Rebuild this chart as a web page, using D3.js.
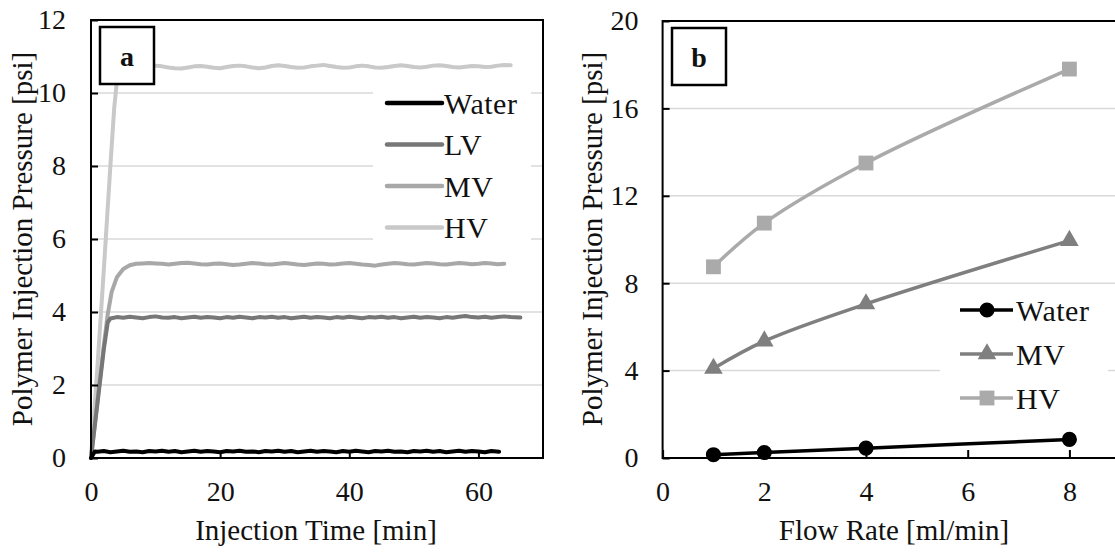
<!DOCTYPE html>
<html><head><meta charset="utf-8">
<script src="https://cdn.jsdelivr.net/npm/d3@7/dist/d3.min.js"></script>
<style>body{margin:0;background:#fff;}</style></head>
<body><svg id="c" width="1115" height="552" font-family="Liberation Serif"></svg>
<script>
// ---------- Panel a data: [time min, pressure psi] ----------
const waterA = [[0,0],[0.6,0.18],[1,0.17],[2,0.19],[3,0.16],[4,0.18],[5,0.2],[6,0.17],[7,0.18],[8,0.16],[9,0.19],[10,0.18],[11,0.2],[12,0.17],[13,0.19],[14,0.16],[15,0.18],[16,0.2],[17,0.17],[18,0.19],[19,0.18],[20,0.16],[21,0.19],[22,0.18],[23,0.2],[24,0.17],[25,0.18],[26,0.16],[27,0.19],[28,0.18],[29,0.2],[30,0.17],[31,0.19],[32,0.16],[33,0.18],[34,0.2],[35,0.17],[36,0.19],[37,0.18],[38,0.16],[39,0.19],[40,0.17],[41,0.2],[42,0.18],[43,0.16],[44,0.19],[45,0.18],[46,0.2],[47,0.17],[48,0.18],[49,0.16],[50,0.19],[51,0.18],[52,0.2],[53,0.17],[54,0.19],[55,0.16],[56,0.18],[57,0.2],[58,0.17],[59,0.19],[60,0.18],[61,0.16],[62,0.19],[63.2,0.17]];
const lvA = [[0,0],[1,1.5],[2,3.0],[2.6,3.72],[3,3.82],[4,3.86],[5,3.84],[6,3.87],[7,3.85],[8,3.83],[9,3.86],[10,3.88],[11,3.85],[12,3.84],[13,3.86],[14,3.83],[15,3.85],[16,3.87],[17,3.84],[18,3.86],[19,3.85],[20,3.83],[21,3.86],[22,3.84],[23,3.87],[24,3.85],[25,3.83],[26,3.86],[27,3.85],[28,3.87],[29,3.84],[30,3.86],[31,3.83],[32,3.85],[33,3.87],[34,3.84],[35,3.86],[36,3.85],[37,3.83],[38,3.86],[39,3.84],[40,3.87],[41,3.85],[42,3.83],[43,3.86],[44,3.85],[45,3.87],[46,3.84],[47,3.86],[48,3.83],[49,3.85],[50,3.87],[51,3.84],[52,3.86],[53,3.85],[54,3.83],[55,3.86],[56,3.84],[57,3.87],[58,3.89],[59,3.86],[60,3.85],[61,3.87],[62,3.84],[63,3.86],[64,3.88],[65,3.86],[66.5,3.85]];
const mvA = [[0,0],[1,1.55],[2,3.1],[2.6,3.95],[3.2,4.55],[4,4.95],[5,5.18],[6,5.28],[7,5.32],[8,5.33],[9,5.34],[10,5.33],[11,5.32],[12,5.30],[13,5.32],[14,5.34],[15,5.35],[16,5.33],[17,5.31],[18,5.30],[19,5.32],[20,5.33],[21,5.31],[22,5.29],[23,5.30],[24,5.32],[25,5.34],[26,5.33],[27,5.31],[28,5.30],[29,5.32],[30,5.34],[31,5.32],[32,5.30],[33,5.29],[34,5.31],[35,5.33],[36,5.32],[37,5.30],[38,5.31],[39,5.33],[40,5.34],[41,5.32],[42,5.30],[43,5.29],[44,5.27],[45,5.30],[46,5.32],[47,5.34],[48,5.33],[49,5.31],[50,5.30],[51,5.32],[52,5.34],[53,5.33],[54,5.31],[55,5.30],[56,5.32],[57,5.34],[58,5.33],[59,5.31],[60,5.32],[61,5.34],[62,5.33],[63,5.31],[64,5.32]];
const hvA = [[0,0],[1,2.5],[2,5.2],[3,8.0],[3.6,9.6],[4,10.3],[4.6,10.62],[5.5,10.72],[6,10.74],[7,10.72],[8,10.70],[9,10.73],[10,10.75],[11,10.73],[12,10.70],[13,10.68],[14,10.67],[15,10.70],[16,10.73],[17,10.74],[18,10.72],[19,10.69],[20,10.68],[21,10.71],[22,10.74],[23,10.75],[24,10.73],[25,10.70],[26,10.68],[27,10.70],[28,10.74],[29,10.76],[30,10.74],[31,10.71],[32,10.69],[33,10.70],[34,10.73],[35,10.75],[36,10.77],[37,10.74],[38,10.71],[39,10.69],[40,10.70],[41,10.73],[42,10.75],[43,10.73],[44,10.70],[45,10.69],[46,10.71],[47,10.74],[48,10.76],[49,10.74],[50,10.71],[51,10.70],[52,10.72],[53,10.75],[54,10.76],[55,10.74],[56,10.71],[57,10.70],[58,10.72],[59,10.74],[60,10.73],[61,10.71],[62,10.72],[63,10.75],[64,10.77],[65,10.76]];
const seriesNamesA = ["Water","LV","MV","HV"];
const xTicksA = [0,20,40,60];
const yTicksA = [0,2,4,6,8,10,12];

// ---------- Panel b data ----------
const flowRates = [1,2,4,8];
const waterB = [0.15,0.25,0.45,0.85];
const mvB = [4.1,5.35,7.05,9.95];
const hvB = [8.75,10.75,13.5,17.8];
const seriesNamesB = ["Water","MV","HV"];
const xTicksB = [0,2,4,6,8];
const yTicksB = [0,4,8,12,16,20];

const FONT = "Liberation Serif";
const svg = d3.select("#c");
const colA = {Water:"#000000", LV:"#777777", MV:"#a8a8a8", HV:"#c9c9c9"};
const colB = {Water:"#000000", MV:"#7f7f7f", HV:"#aaaaaa"};
function txt(g){ return g.append("text").attr("font-family",FONT).attr("fill","#111"); }
function styleAxis(g){
  g.attr("font-family",FONT);
  g.select(".domain").remove();
  g.selectAll(".tick line").attr("stroke","#000").attr("stroke-width",2);
  g.selectAll(".tick text").attr("font-family",FONT).attr("font-size",28).attr("fill","#111");
}

// ================= Panel a =================
const xa = d3.scaleLinear().domain([0,70]).range([91,543]);
const ya = d3.scaleLinear().domain([0,12]).range([458,20]);
const ga = svg.append("g");
ga.selectAll("line.grid").data(yTicksA.filter(d=>d>0&&d<12)).enter().append("line")
  .attr("x1",xa(0)).attr("x2",xa(70)).attr("y1",d=>ya(d)).attr("y2",d=>ya(d))
  .attr("stroke","#d9d9d9").attr("stroke-width",1.5);
ga.append("rect").attr("x",373).attr("y",78).attr("width",158).attr("height",170).attr("fill","#fff");
const lineA = d3.line().x(d=>xa(d[0])).y(d=>ya(d[1]));
const dataA = {Water:waterA, LV:lvA, MV:mvA, HV:hvA};
["HV","MV","LV","Water"].forEach(k=>{
  ga.append("path").attr("d",lineA(dataA[k])).attr("fill","none")
    .attr("stroke",colA[k]).attr("stroke-width",4).attr("stroke-linejoin","round").attr("stroke-linecap","round");
});
const gya = ga.append("g").attr("transform",`translate(${xa(0)},0)`)
  .call(d3.axisLeft(ya).tickValues(yTicksA).tickSize(-7).tickPadding(25).tickFormat(d3.format("d")));
const gxa = ga.append("g").attr("transform",`translate(0,${ya(0)})`)
  .call(d3.axisBottom(xa).tickValues(xTicksA).tickSize(-6).tickPadding(23).tickFormat(d3.format("d")));
styleAxis(gya); styleAxis(gxa);
ga.append("rect").attr("x",xa(0)).attr("y",ya(12)).attr("width",xa(70)-xa(0)).attr("height",ya(0)-ya(12))
  .attr("fill","none").attr("stroke","#000").attr("stroke-width",2);
ga.append("rect").attr("x",100).attr("y",27).attr("width",54).attr("height",57).attr("fill","#fff").attr("stroke","#000").attr("stroke-width",2.5);
txt(ga).attr("x",127).attr("y",56).attr("dy","0.35em").attr("text-anchor","middle").attr("font-size",28).attr("font-weight","bold").text("a");
seriesNamesA.forEach((k,i)=>{
  const yy = 103 + i*41.5;
  ga.append("line").attr("x1",387).attr("x2",442).attr("y1",yy).attr("y2",yy).attr("stroke",colA[k]).attr("stroke-width",4.5).attr("stroke-linecap","round");
  txt(ga).attr("x",444).attr("y",yy).attr("dy","0.36em").attr("font-size",30).attr("letter-spacing",0.5).text(k);
});
txt(ga).attr("x",316).attr("y",540).attr("text-anchor","middle").attr("font-size",29).text("Injection Time [min]");
txt(ga).attr("transform","translate(32,239) rotate(-90)").attr("text-anchor","middle").attr("font-size",29).text("Polymer Injection Pressure [psi]");

// ================= Panel b =================
const xb = d3.scaleLinear().domain([0,9]).range([662.6,662.6+9*50.85]);
const yb = d3.scaleLinear().domain([0,20]).range([458,21]);
const gb = svg.append("g");
gb.selectAll("line.grid").data(yTicksB.filter(d=>d>0&&d<20)).enter().append("line")
  .attr("x1",xb(0)).attr("x2",xb(9)).attr("y1",d=>yb(d)).attr("y2",d=>yb(d))
  .attr("stroke","#d9d9d9").attr("stroke-width",1.5);
gb.append("rect").attr("x",940).attr("y",288).attr("width",168).attr("height",132).attr("fill","#fff");
const dataB = {Water:waterB, MV:mvB, HV:hvB};
const lineB = d3.line().x(d=>xb(d[0])).y(d=>yb(d[1])).curve(d3.curveCatmullRom.alpha(0.5));
["HV","MV","Water"].forEach(k=>{
  const pts = flowRates.map((f,i)=>[f,dataB[k][i]]);
  gb.append("path").attr("d",lineB(pts)).attr("fill","none").attr("stroke",colB[k]).attr("stroke-width",3.5);
});
const sym = {Water:d3.symbolCircle, MV:d3.symbolTriangle, HV:d3.symbolSquare};
const symSize = {Water:180, MV:150, HV:220};
["HV","MV","Water"].forEach(k=>{
  gb.selectAll(null).data(flowRates.map((f,i)=>[f,dataB[k][i]])).enter().append("path")
    .attr("d",d3.symbol().type(sym[k]).size(symSize[k]))
    .attr("transform",d=>`translate(${xb(d[0])},${yb(d[1])})`).attr("fill",colB[k]);
});
const gyb = gb.append("g").attr("transform",`translate(${xb(0)},0)`)
  .call(d3.axisLeft(yb).tickValues(yTicksB).tickSize(-7).tickPadding(24).tickFormat(d3.format("d")));
const gxb = gb.append("g").attr("transform",`translate(0,${yb(0)})`)
  .call(d3.axisBottom(xb).tickValues(xTicksB).tickSize(-8).tickPadding(23).tickFormat(d3.format("d")));
styleAxis(gyb); styleAxis(gxb);
gb.append("rect").attr("x",xb(0)).attr("y",yb(20)).attr("width",xb(9)-xb(0)).attr("height",yb(0)-yb(20))
  .attr("fill","none").attr("stroke","#000").attr("stroke-width",2);
gb.append("rect").attr("x",672).attr("y",28).attr("width",54).attr("height",57).attr("fill","#fff").attr("stroke","#000").attr("stroke-width",2.5);
txt(gb).attr("x",699).attr("y",57).attr("dy","0.35em").attr("text-anchor","middle").attr("font-size",28).attr("font-weight","bold").text("b");
seriesNamesB.forEach((k,i)=>{
  const yy = 310 + i*44;
  gb.append("line").attr("x1",960).attr("x2",1013).attr("y1",yy).attr("y2",yy).attr("stroke",colB[k]).attr("stroke-width",3.5);
  gb.append("path").attr("d",d3.symbol().type(sym[k]).size(symSize[k])).attr("transform",`translate(987,${yy})`).attr("fill",colB[k]);
  txt(gb).attr("x",1016).attr("y",yy).attr("dy","0.36em").attr("font-size",30).attr("letter-spacing",0.5).text(k);
});
txt(gb).attr("x",894).attr("y",540).attr("text-anchor","middle").attr("font-size",29).text("Flow Rate [ml/min]");
txt(gb).attr("transform","translate(602,239) rotate(-90)").attr("text-anchor","middle").attr("font-size",29).text("Polymer Injection Pressure [psi]");
</script></body></html>
